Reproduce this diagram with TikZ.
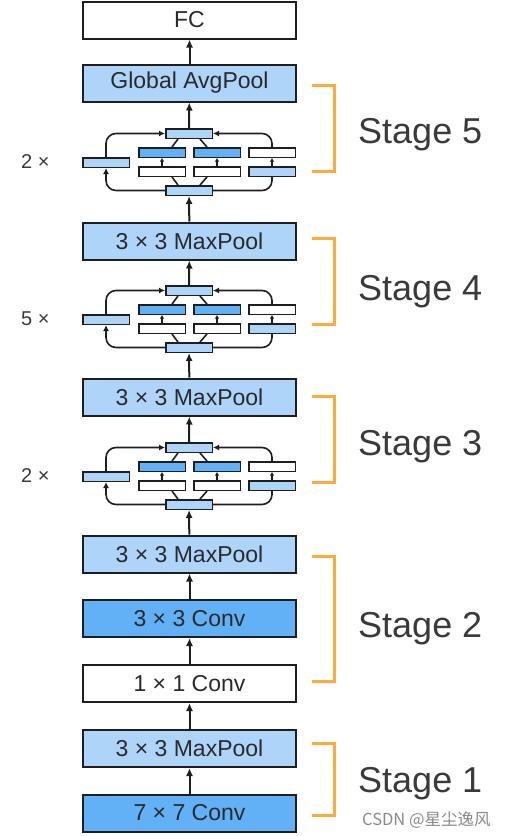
\documentclass[tikz,border=0pt]{standalone}
\usepackage{fontspec}
\setmainfont{Liberation Sans}
\newfontfamily\cjkfont{Noto Sans CJK SC}
\usepackage{tikz}
\usetikzlibrary{arrows.meta, positioning, calc}
\definecolor{poolblue}{HTML}{AED4FA}
\definecolor{convblue}{HTML}{62B1F6}
\definecolor{edgegray}{HTML}{1E1E1E}
\definecolor{textgray}{HTML}{2A2A2A}
\definecolor{stagegray}{HTML}{3A3A3A}
\definecolor{stageorange}{HTML}{FFAA3C}
\definecolor{markgray}{HTML}{8A8A8A}

\begin{document}
\begin{tikzpicture}[x=1pt, y=-1pt,
    layer/.style={draw=edgegray, line width=2pt, minimum width=213pt,
      minimum height=37pt, inner sep=0pt, text=textgray,
      font=\fontsize{23}{27}\selectfont},
    pool/.style={layer, fill=poolblue},
    conv/.style={layer, fill=convblue},
    plain/.style={layer, fill=white},
    mini/.style={draw=edgegray, line width=1.5pt, minimum width=46.5pt,
      minimum height=9.5pt, inner sep=0pt},
    flow/.style={-{Latex[length=8pt,width=7pt]}, line width=2pt, edgegray},
    link/.style={line width=1.6pt, edgegray, rounded corners=10pt},
    tip/.style={-{Latex[length=6pt,width=6pt]}},
    stub/.style={-{Latex[length=3.5pt,width=4.5pt]}, line width=1.2pt, edgegray},
    brace/.style={draw=stageorange, line width=3pt},
    stage/.style={anchor=base west, inner sep=0pt, text=stagegray,
      font=\fontsize{36}{40}\selectfont},
    times/.style={anchor=base west, inner sep=0pt, text=stagegray,
      font=\fontsize{20}{24}\selectfont}]
  \useasboundingbox (0,0) rectangle (513,836);

  % ── MAIN LAYERS ─────────────────────────────
  \node[plain] (fc)  at (189.5,20)    {FC};
  \node[pool]  (avg) at (189.5,83)    {Global AvgPool};
  \node[pool]  (mp4) at (189.5,241)   {3 × 3 MaxPool};
  \node[pool]  (mp3) at (189.5,397)   {3 × 3 MaxPool};
  \node[pool]  (mp2) at (189.5,554)   {3 × 3 MaxPool};
  \node[conv]  (c3)  at (189.5,618.5) {3 × 3 Conv};
  \node[plain] (c1)  at (189.5,683.5) {1 × 1 Conv};
  \node[pool]  (mp1) at (189.5,748.5) {3 × 3 MaxPool};
  \node[conv]  (c7)  at (189.5,813)   {7 × 7 Conv};

  % ── INCEPTION BLOCKS ────────────────────────
  \foreach \k/\t/\n in {5/128/2, 4/285/5, 3/442/2} {
    \node[mini, fill=poolblue] (out\k) at (189,\t+5.5)  {};
    \node[mini, fill=convblue] (a1\k)  at (162,\t+24.5) {};
    \node[mini, fill=convblue] (a2\k)  at (217,\t+24.5) {};
    \node[mini, fill=white]    (a3\k)  at (272,\t+24.5) {};
    \node[mini, fill=white]    (b1\k)  at (162,\t+43.5) {};
    \node[mini, fill=white]    (b2\k)  at (217,\t+43.5) {};
    \node[mini, fill=poolblue] (b3\k)  at (272,\t+43.5) {};
    \node[mini, fill=poolblue] (lf\k)  at (106,\t+34.5) {};
    \node[mini, fill=poolblue] (in\k)  at (189,\t+62.5) {};
    \node[times] (rep\k) at (21,\t+40) {\n\ ×};
    % side paths
    \draw[link, tip] (in\k.west) -| (lf\k.south);
    \draw[link, tip] (lf\k.north) |- (out\k.west);
    \draw[link] (in\k.east) -| (b3\k.south);
    \draw[link, tip] (a3\k.north) |- (out\k.east);
    % inner paths
    \draw[link] ([xshift=-11pt]in\k.north) -- ([xshift=10pt]b1\k.south);
    \draw[link] ([xshift=11pt]in\k.north) -- ([xshift=-10pt]b2\k.south);
    \draw[link] ([xshift=10pt]a1\k.north) -- ([xshift=-11pt]out\k.south);
    \draw[link] ([xshift=-10pt]a2\k.north) -- ([xshift=11pt]out\k.south);
    \draw[stub] (b1\k) -- (a1\k);
    \draw[stub] (b2\k) -- (a2\k);
    \draw[stub] (b3\k) -- (a3\k);
  }

  % ── ARROWS ──────────────────────────────────
  \draw[flow] (avg) -- (fc);
  \draw[flow] (out5) -- (avg);
  \draw[flow] (mp4) -- (in5);
  \draw[flow] (out4) -- (mp4);
  \draw[flow] (mp3) -- (in4);
  \draw[flow] (out3) -- (mp3);
  \draw[flow] (mp2) -- (in3);
  \draw[flow] (c3) -- (mp2);
  \draw[flow] (c1) -- (c3);
  \draw[flow] (mp1) -- (c1);
  \draw[flow] (c7) -- (mp1);

  % ── STAGES ──────────────────────────────────
  \foreach \s/\ya/\yb/\yl in {5/85/171/143, 4/238/324/300, 3/396/482/455,
                              2/556/681/637, 1/743/815/792} {
    \draw[brace] (312,\ya) -- (334.5,\ya) -- (334.5,\yb) -- (312,\yb);
    \node[stage] (st\s) at (358,\yl) {Stage \s};
  }

  \node[anchor=base west, inner sep=0pt, text=markgray,
    font=\cjkfont\fontsize{16.5}{18}\selectfont] (mark) at (362,825)
    {CSDN @星尘逸风};
\end{tikzpicture}
\end{document}
